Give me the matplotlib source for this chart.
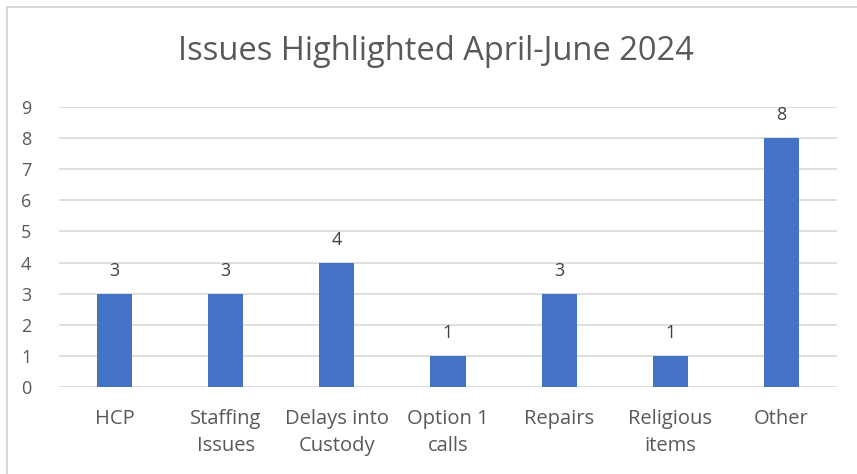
import matplotlib.pyplot as plt
from matplotlib.patches import Rectangle

categories = ["HCP", "Staffing\nIssues", "Delays into\nCustody", "Option 1\ncalls",
              "Repairs", "Religious\nitems", "Other"]
counts = [3, 3, 4, 1, 3, 1, 8]
yticks = list(range(0, 10))

plt.rcParams['font.family'] = ['Open Sans', 'DejaVu Sans']
text_col = '#595959'

fig = plt.figure(figsize=(8.57, 4.74), dpi=100)
ax = fig.add_axes([59/857, 87/474, 778/857, 280/474])

x = list(range(len(categories)))
bars = ax.bar(x, counts, width=0.315, color='#4472C4', zorder=3)
for xi, v in zip(x, counts):
    ax.annotate(str(v), (xi, v), xytext=(0, 10), textcoords='offset points',
                ha='center', va='bottom', fontsize=13, color='#404040')

ax.set_xlim(-0.5, len(categories) - 0.5)
ax.set_ylim(0, 9)
ax.set_yticks(yticks)
ax.yaxis.grid(True, color='#d9d9d9', linewidth=1.2, zorder=0)
ax.set_xticks(x)
ax.set_xticklabels(categories, fontsize=14.5, color=text_col, linespacing=1.45)
ax.tick_params(axis='y', labelsize=13, labelcolor=text_col, length=0, pad=20)
ax.tick_params(axis='x', length=0, pad=16)
for s in ax.spines.values():
    s.set_visible(False)

fig.text(436/857, 1 - 51/474, "Issues Highlighted April-June 2024", ha='center', va='center',
         fontsize=23.5, color=text_col)

# chart frame
fig.patches.append(Rectangle((7/857, -0.01), 1.0, 1 - 7/474 + 0.01, transform=fig.transFigure,
                             fill=False, edgecolor='#d9d9d9', linewidth=1.5))

fig.savefig('out.png', dpi=100)
